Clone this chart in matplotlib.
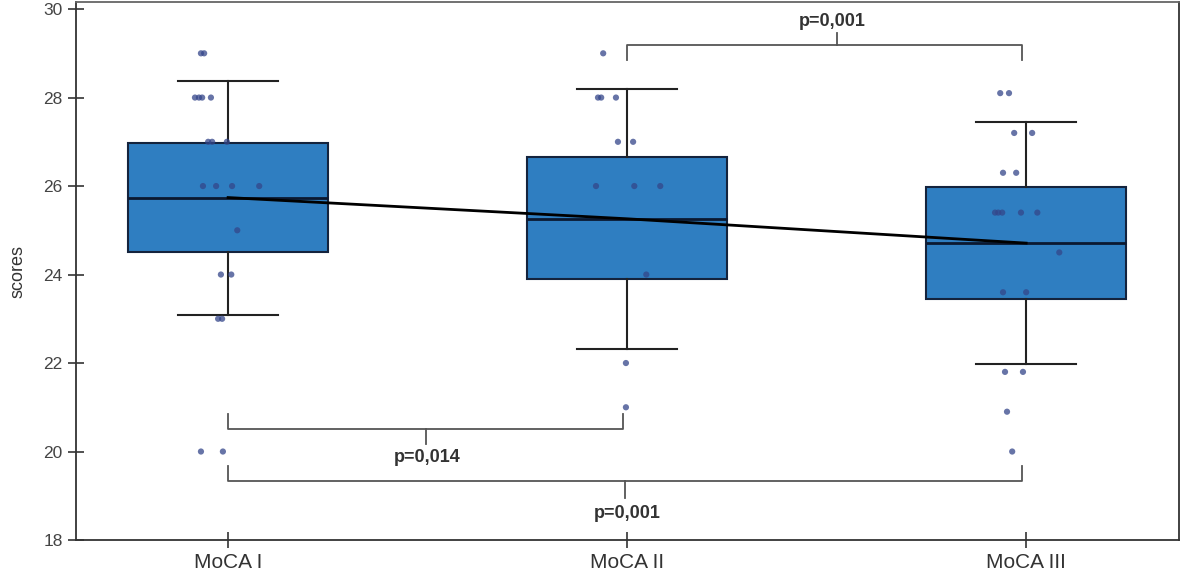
import numpy as np
import matplotlib
matplotlib.use("Agg")
import matplotlib.pyplot as plt

# ------------------------------------------------------------------
# data
# ------------------------------------------------------------------
groups = ["MoCA I", "MoCA II", "MoCA III"]

# box statistics (whisker low, Q1, median, Q3, whisker high)
whisker_low = [23.08, 22.32, 21.98]
q1 = [24.52, 23.91, 23.45]
medians = [25.74, 25.26, 24.71]
q3 = [26.97, 26.65, 25.97]
whisker_high = [28.37, 28.19, 27.44]

# individual scores with their horizontal jitter (category units)
moca1_scores = [29, 29, 28, 28, 28, 28, 27, 27, 27, 26, 26, 26, 26, 25, 24, 24, 23, 23, 20, 20]
moca1_jitter = [-0.068, -0.060, -0.083, -0.073, -0.065, -0.043, -0.050, -0.040, -0.003,
                -0.063, -0.030, 0.010, 0.078, 0.023, -0.018, 0.008, -0.025, -0.015,
                -0.068, -0.013]

moca2_scores = [29, 28, 28, 28, 27, 27, 26, 26, 26, 24, 22, 21]
moca2_jitter = [-0.060, -0.073, -0.065, -0.028, -0.023, 0.015, -0.078, 0.018, 0.083,
                0.048, -0.003, -0.003]

moca3_scores = [28.1, 28.1, 27.2, 27.2, 26.3, 26.3, 25.4, 25.4, 25.4, 25.4, 25.4,
                24.5, 23.6, 23.6, 21.8, 21.8, 20.9, 20.0]
moca3_jitter = [-0.065, -0.043, -0.030, 0.015, -0.058, -0.025, -0.078, -0.070, -0.060,
                -0.013, 0.028, 0.083, -0.058, 0.000, -0.053, -0.008, -0.048, -0.035]

# pairwise comparisons: (group a, group b, label)
comparisons = [(1, 2, "p=0,001"), (0, 1, "p=0,014"), (0, 2, "p=0,001")]

# ------------------------------------------------------------------
# figure
# ------------------------------------------------------------------
plt.rcParams["font.family"] = ["Liberation Sans", "DejaVu Sans"]

fig = plt.figure(figsize=(11.81, 5.85), dpi=100)
ax = fig.add_axes([0.0644, 0.0769, 0.9339, 0.9197])

pos = np.arange(len(groups))
stats = []
for i, g in enumerate(groups):
    stats.append({"label": g, "whislo": whisker_low[i], "q1": q1[i], "med": medians[i],
                  "q3": q3[i], "whishi": whisker_high[i]})

ax.bxp(stats, positions=pos, widths=0.5, patch_artist=True, showfliers=False,
       boxprops=dict(facecolor="#2f7ec1", edgecolor="#14233d", linewidth=1.5),
       medianprops=dict(color="#0b1830", linewidth=2),
       whiskerprops=dict(color="#222222", linewidth=1.5),
       capprops=dict(color="#222222", linewidth=1.5),
       capwidths=0.25)

# line joining the medians
ax.plot(pos, medians, color="black", linewidth=2, zorder=4)

# jittered points
for i, (sc, jit) in enumerate([(moca1_scores, moca1_jitter),
                               (moca2_scores, moca2_jitter),
                               (moca3_scores, moca3_jitter)]):
    ax.scatter(pos[i] + np.array(jit), sc, s=20, color="#34468a", alpha=0.75,
               edgecolors="none", zorder=5)

# significance brackets: (y of bar, end length, tick direction, label y)
bracket_layout = [(29.18, -0.33, 0.28, 29.73), (20.51, 0.34, -0.34, 19.86),
                  (19.34, 0.34, -0.39, 18.61)]
for (a, b, label), (yb, end, tick, ylab) in zip(comparisons, bracket_layout):
    xa, xb = pos[a], pos[b] - 0.01
    xm = (xa + xb) / 2 + (0.03 if a == 1 else 0)
    ax.plot([xa, xa, xb, xb], [yb + end, yb, yb, yb + end], color="#555555",
            linewidth=1.3, solid_joinstyle="round", zorder=3)
    ax.plot([xm, xm], [yb, yb + tick], color="#555555", linewidth=1.3, zorder=3)
    ax.text(xm - (0.01 if a == 1 else -0.005), ylab, label, ha="center", va="center",
            fontsize=13, fontweight="bold", color="#333333")

ax.set_xlim(-0.381, 2.383)
ax.set_ylim(18, 30.16)
ax.set_yticks([18, 20, 22, 24, 26, 28, 30])
ax.set_xticks(pos)
ax.set_xticklabels(groups)
ax.set_ylabel("scores", fontsize=13, color="#333333", labelpad=12)

ax.tick_params(axis="y", direction="inout", length=11, width=1.2, labelsize=12.5,
               labelcolor="#444444", color="#333333", pad=4)
ax.tick_params(axis="x", direction="inout", length=11, width=1.2, labelsize=15,
               labelcolor="#333333", color="#333333", pad=4)
for side in ["left", "bottom", "right"]:
    ax.spines[side].set_color("#333333")
    ax.spines[side].set_linewidth(1.3)
ax.spines["top"].set_color("#666666")
ax.spines["top"].set_linewidth(1.3)

plt.savefig("out.png", dpi=100)
plt.close()
